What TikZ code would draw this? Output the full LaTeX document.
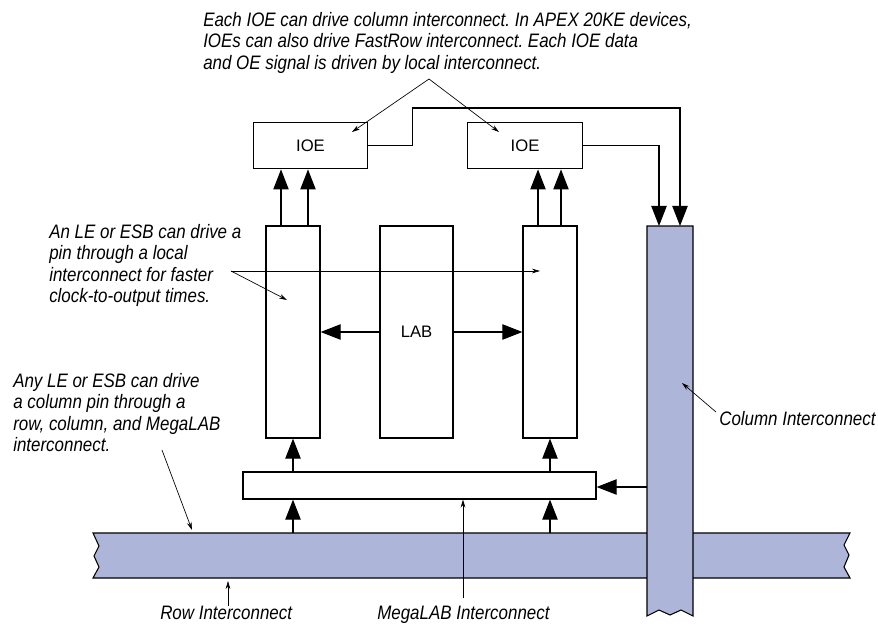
\documentclass[tikz,border=0pt]{standalone}
\usepackage{fontspec}
\setmainfont{Liberation Sans}
\newfontfamily\notefont{Liberation Sans}[FakeStretch=0.87]
\usetikzlibrary{arrows.meta,calc}
\definecolor{busblue}{RGB}{173,181,217}
\frenchspacing

\begin{document}
\begin{tikzpicture}[
  x=0.75pt, y=-0.75pt,
  blk/.style={draw, fill=white, line width=0.9pt, inner sep=0pt, font=\fontsize{12.5}{14}\selectfont},
  ioebox/.style={blk, minimum width=86pt, minimum height=35pt},
  lecol/.style={blk, minimum width=40.5pt, minimum height=159pt},
  bus/.style={draw, fill=busblue, line width=0.8pt},
  sig/.style={-{Triangle[length=15pt,width=11.5pt]}, line width=0.8pt},
  note/.style={-{Stealth[length=6pt,width=3.5pt]}, line width=0.5pt},
  lbl/.style={font=\notefont\itshape\fontsize{14.6}{16}\selectfont, align=left, inner sep=0pt, anchor=north west}
]
\useasboundingbox (0,0) rectangle (878,631);

% --- Row and column interconnect (column lies on top) ---
\draw[bus] (93,533) -- (850,533) -- (844,545) -- (849,555) -- (844,567) -- (850,578)
  -- (93,578) -- (99,567) -- (94,556) -- (99,546) -- cycle;
\draw[bus] (647,226) -- (693,226) -- (693,616) -- (681,610) -- (670,615) -- (659,610)
  -- (647,616) -- cycle;

\coordinate (rowtop) at (0,533);
\coordinate (colw)   at (647,487);
\coordinate (cin1)   at (659,226);
\coordinate (cin2)   at (680,226);

% --- Blocks ---
\node[ioebox] (ioe1) at (310.5,145.5) {IOE};
\node[ioebox] (ioe2) at (525,145.5)   {IOE};

\node[lecol] (le1) at (293,332) {};
\node[blk, minimum width=54.75pt, minimum height=159pt] (lab) at (416.5,332) {LAB};
\node[lecol] (le2) at (550,332) {};

\node[blk, minimum width=264.75pt, minimum height=20.25pt] (mega) at (419.5,485.5) {};

% --- Signal paths ---
\foreach \dx [count=\i] in {-12,15} {
  \coordinate (a\i) at ($(le1.north)+(\dx,0)$);
  \draw[sig] (a\i) -- (a\i |- ioe1.south);
}
\foreach \dx [count=\i] in {-12,11} {
  \coordinate (b\i) at ($(le2.north)+(\dx,0)$);
  \draw[sig] (b\i) -- (b\i |- ioe2.south);
}

\draw[sig] (ioe1.east) -- ++(44,0) -- ++(0,-37.5) -| (cin2);
\draw[sig] (ioe2.east) -| (cin1);

\draw[sig] (lab.west) -- (le1.east);
\draw[sig] (lab.east) -- (le2.west);

\draw[sig] (le1 |- rowtop) -- (le1 |- mega.south);
\draw[sig] (le2 |- rowtop) -- (le2 |- mega.south);
\draw[sig] (le1 |- mega.north) -- (le1.south);
\draw[sig] (le2 |- mega.north) -- (le2.south);
\draw[sig] (colw) -- (colw -| mega.east);

% --- Notes ---
\node[lbl] (topnote) at (203,12) {Each IOE can drive column interconnect. In APEX 20KE devices,\\
  IOEs can also drive FastRow interconnect. Each IOE data\\
  and OE signal is driven by local interconnect.};
\node[lbl] (localnote) at (49,224) {An LE or ESB can drive a\\ pin through a local\\
  interconnect for faster\\ clock-to-output times.};
\node[lbl] (rownote) at (13,373) {Any LE or ESB can drive\\ a column pin through a\\
  row, column, and MegaLAB\\ interconnect.};
\node[lbl] (rowlbl)  at (160,606) {Row Interconnect};
\node[lbl] (megalbl) at (377,606) {MegaLAB Interconnect};
\node[lbl] (collbl)  at (719,411) {Column Interconnect};

\coordinate (topfork) at (429,79);
\coordinate (t1) at (352,132);
\coordinate (t2) at (499,132);
\draw[note] (topfork) -- (t1);
\draw[note] (topfork) -- (t2);

\coordinate (localfork) at (231,271);
\coordinate (l1) at (287,300);
\coordinate (l2) at (540,271);
\draw[note] (localfork) -- (l1);
\draw[note] (localfork) -- (l2);

\coordinate (rowfrom) at (162,450);
\coordinate (rowhit)  at (192,530);
\draw[note] (rowfrom) -- (rowhit);

\coordinate (rowlow) at (228,606);
\coordinate (rowbot) at (228,581);
\draw[note] (rowlow) -- (rowbot);

\coordinate (megabot) at (463,598);
\draw[note] (megabot) -- (megabot |- mega.south);

\coordinate (colfrom) at (716,412);
\coordinate (colhit)  at (682,383);
\draw[note] (colfrom) -- (colhit);

\end{tikzpicture}
\end{document}
